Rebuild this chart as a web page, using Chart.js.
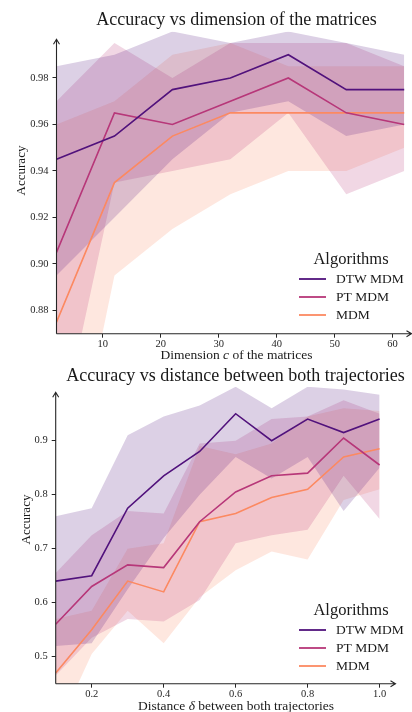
<!DOCTYPE html>
<html>
<head>
<meta charset="utf-8">
<script src="https://cdn.jsdelivr.net/npm/chart.js@4.4.1/dist/chart.umd.min.js"></script>
<style>
body { margin: 0; background: #fff; }
#wrap { position: relative; width: 412px; height: 712px; }
canvas { position: absolute; left: 0; }
</style>
</head>
<body>
<div id="wrap">
  <canvas id="dimChart" width="412" height="366" style="top:0"></canvas>
  <canvas id="distChart" width="412" height="352" style="top:360px"></canvas>
</div>
<script>
const algorithms = ['DTW MDM', 'PT MDM', 'MDM'];
const lineColors = ['#51127c', '#b73779', '#fc8961'];
const bandColors = ['rgba(81,18,124,0.2)', 'rgba(183,55,121,0.2)', 'rgba(252,137,97,0.2)'];

// accuracy vs dimension c
const dims = [2, 12, 22, 32, 42, 52, 62];
const dimDtwMean  = [0.945, 0.955, 0.975, 0.98, 0.99, 0.975, 0.975];
const dimDtwUpper = [0.985, 0.99, 1.0, 0.995, 1.0, 0.995, 0.99];
const dimDtwLower = [0.895, 0.92, 0.945, 0.965, 0.97, 0.955, 0.96];
const dimPtMean  = [0.905, 0.965, 0.96, 0.97, 0.98, 0.965, 0.96];
const dimPtUpper = [0.97, 0.995, 0.98, 0.995, 0.995, 0.995, 0.985];
const dimPtLower = [0.82, 0.935, 0.94, 0.945, 0.965, 0.93, 0.94];
const dimMdmMean  = [0.875, 0.935, 0.955, 0.965, 0.965, 0.965, 0.965];
const dimMdmUpper = [0.96, 0.97, 0.99, 0.995, 0.985, 0.985, 0.985];
const dimMdmLower = [0.775, 0.895, 0.915, 0.93, 0.94, 0.94, 0.95];
const dimXTicks = [10, 20, 30, 40, 50, 60];
const dimYTicks = [0.88, 0.90, 0.92, 0.94, 0.96, 0.98];

// accuracy vs distance delta
const dists = [0.1, 0.2, 0.3, 0.4, 0.5, 0.6, 0.7, 0.8, 0.9, 1.0];
const distDtwMean  = [0.64, 0.65, 0.775, 0.835, 0.88, 0.95, 0.90, 0.94, 0.915, 0.94];
const distDtwUpper = [0.76, 0.775, 0.91, 0.945, 0.965, 1.0, 0.96, 1.0, 0.995, 0.985];
const distDtwLower = [0.52, 0.525, 0.625, 0.72, 0.80, 0.87, 0.83, 0.87, 0.77, 0.85];
const distPtMean  = [0.56, 0.63, 0.67, 0.665, 0.75, 0.805, 0.835, 0.84, 0.905, 0.855];
const distPtUpper = [0.655, 0.725, 0.77, 0.765, 0.895, 0.9, 0.94, 0.945, 0.975, 0.95];
const distPtLower = [0.465, 0.535, 0.57, 0.565, 0.605, 0.71, 0.725, 0.735, 0.835, 0.755];
const distMdmMean  = [0.47, 0.55, 0.64, 0.62, 0.75, 0.765, 0.795, 0.81, 0.87, 0.885];
const distMdmUpper = [0.57, 0.585, 0.70, 0.71, 0.89, 0.875, 0.895, 0.945, 0.96, 0.955];
const distMdmLower = [0.36, 0.505, 0.585, 0.525, 0.61, 0.66, 0.695, 0.68, 0.79, 0.81];
const distXTicks = [0.2, 0.4, 0.6, 0.8, 1.0];
const distYTicks = [0.5, 0.6, 0.7, 0.8, 0.9];

const SERIF = '"Liberation Serif", "DejaVu Serif", serif';
const INK = '#262626';

const pts = (xs, ys) => xs.map((x, i) => ({ x: x, y: ys[i] }));

function buildDatasets(xs, groups) {
  const sets = [];
  groups.forEach((g, i) => {
    sets.push({ data: pts(xs, g.upper), fill: '+1', backgroundColor: bandColors[i],
      borderWidth: 0, pointRadius: 0, order: 3 });
    sets.push({ data: pts(xs, g.lower), fill: false, borderWidth: 0, pointRadius: 0, order: 3 });
  });
  groups.forEach((g, i) => {
    sets.push({ label: algorithms[i], data: pts(xs, g.mean), borderColor: lineColors[i],
      borderWidth: 1.6, pointRadius: 0, fill: false, order: 1 });
  });
  return sets;
}

function drawArrowAxes(ctx, area, yTip, xTip) {
  ctx.save();
  ctx.strokeStyle = INK;
  ctx.lineWidth = 1.1;
  ctx.beginPath();
  ctx.moveTo(area.left, area.bottom);
  ctx.lineTo(area.left, yTip);
  ctx.moveTo(area.left - 3, yTip + 5);
  ctx.lineTo(area.left, yTip);
  ctx.lineTo(area.left + 3, yTip + 5);
  ctx.moveTo(area.left, area.bottom);
  ctx.lineTo(xTip, area.bottom);
  ctx.moveTo(xTip - 5, area.bottom - 3);
  ctx.lineTo(xTip, area.bottom);
  ctx.lineTo(xTip - 5, area.bottom + 3);
  ctx.stroke();
  ctx.restore();
}

function drawMixed(ctx, parts, cx, y, size) {
  let total = 0;
  parts.forEach(p => {
    ctx.font = (p[1] ? 'italic ' : '') + size + 'px ' + SERIF;
    total += ctx.measureText(p[0]).width;
  });
  let x = cx - total / 2;
  ctx.textAlign = 'left';
  parts.forEach(p => {
    ctx.font = (p[1] ? 'italic ' : '') + size + 'px ' + SERIF;
    ctx.fillText(p[0], x, y);
    x += ctx.measureText(p[0]).width;
  });
}

function decor(o) {
  return {
    id: 'decor',
    afterDraw(chart) {
      const ctx = chart.ctx;
      const area = chart.chartArea;
      drawArrowAxes(ctx, area, o.yTip, o.xTip);
      ctx.save();
      ctx.fillStyle = '#1a1a1a';
      ctx.textBaseline = 'alphabetic';
      // title
      ctx.font = '18px ' + SERIF;
      ctx.textAlign = 'center';
      ctx.fillText(o.title, o.titleX, o.titleY);
      // x label
      drawMixed(ctx, o.xLabel, o.xLabelX, o.xLabelY, 13.5);
      // y label
      ctx.save();
      ctx.translate(o.yLabelX, o.yLabelY);
      ctx.rotate(-Math.PI / 2);
      ctx.font = '13px ' + SERIF;
      ctx.textAlign = 'center';
      ctx.fillText('Accuracy', 0, 0);
      ctx.restore();
      // legend
      ctx.font = '16.5px ' + SERIF;
      ctx.textAlign = 'center';
      ctx.textBaseline = 'middle';
      ctx.fillText('Algorithms', 351, o.legendY);
      ctx.font = '13.5px ' + SERIF;
      ctx.textAlign = 'left';
      algorithms.forEach((name, i) => {
        const y = o.legendY + 19 + i * 18;
        ctx.strokeStyle = lineColors[i];
        ctx.lineWidth = 1.8;
        ctx.beginPath();
        ctx.moveTo(299, y);
        ctx.lineTo(326, y);
        ctx.stroke();
        ctx.fillText(name, 336, y + 0.5);
      });
      ctx.restore();
    }
  };
}

function axisOpts(min, max, ticks, fmt, fit, isX, pad) {
  return {
    type: 'linear',
    min: min,
    max: max,
    afterBuildTicks: s => { s.ticks = ticks.map(v => ({ value: v })); },
    afterFit: s => { if (isX) s.height = fit; else s.width = fit; },
    ticks: { callback: fmt, font: { family: SERIF, size: 10.5 }, color: INK,
      padding: pad, maxRotation: 0, autoSkip: false },
    grid: { drawOnChartArea: false, tickLength: 4, color: INK, lineWidth: 1 },
    border: { display: false }
  };
}

function makeChart(id, xs, groups, sc, o) {
  new Chart(document.getElementById(id), {
    type: 'line',
    data: { datasets: buildDatasets(xs, groups) },
    options: {
      responsive: false,
      animation: false,
      layout: { padding: { top: sc.top, right: sc.right, left: 0, bottom: 0 } },
      plugins: { legend: { display: false }, tooltip: { enabled: false } },
      elements: { line: { tension: 0 } },
      scales: {
        x: axisOpts(sc.xMin, sc.xMax, sc.xTicks, sc.xFmt, sc.xH, true, 0),
        y: axisOpts(sc.yMin, sc.yMax, sc.yTicks, sc.yFmt, sc.yW, false, 4)
      }
    },
    plugins: [decor(o)]
  });
}

makeChart('dimChart', dims, [
  { mean: dimDtwMean, upper: dimDtwUpper, lower: dimDtwLower },
  { mean: dimPtMean, upper: dimPtUpper, lower: dimPtLower },
  { mean: dimMdmMean, upper: dimMdmUpper, lower: dimMdmLower }
], {
  top: 31.5, right: 2, xH: 32.3, yW: 56.5,
  xMin: 2, xMax: 63, yMin: 0.87, yMax: 1.0,
  xTicks: dimXTicks, yTicks: dimYTicks,
  xFmt: v => String(v), yFmt: v => v.toFixed(2)
}, {
  title: 'Accuracy vs dimension of the matrices', titleX: 236.5, titleY: 25,
  xLabel: [['Dimension ', false], ['c', true], [' of the matrices', false]],
  xLabelX: 236.5, xLabelY: 359.3,
  yLabelX: 25, yLabelY: 170.5,
  yTip: 39.3, xTip: 411.5, legendY: 260
});

makeChart('distChart', dists, [
  { mean: distDtwMean, upper: distDtwUpper, lower: distDtwLower },
  { mean: distPtMean, upper: distPtUpper, lower: distPtLower },
  { mean: distMdmMean, upper: distMdmUpper, lower: distMdmLower }
], {
  top: 26.7, right: 18, xH: 28.3, yW: 55.7,
  xMin: 0.1, xMax: 1.04, yMin: 0.45, yMax: 1.0,
  xTicks: distXTicks, yTicks: distYTicks,
  xFmt: v => v.toFixed(1), yFmt: v => v.toFixed(1)
}, {
  title: 'Accuracy vs distance between both trajectories', titleX: 235.5, titleY: 20.7,
  xLabel: [['Distance ', false], ['δ', true], [' between both trajectories', false]],
  xLabelX: 236, xLabelY: 349.5,
  yLabelX: 30, yLabelY: 159.5,
  yTip: 32.3, xTip: 395.5, legendY: 251
});
</script>
</body>
</html>
